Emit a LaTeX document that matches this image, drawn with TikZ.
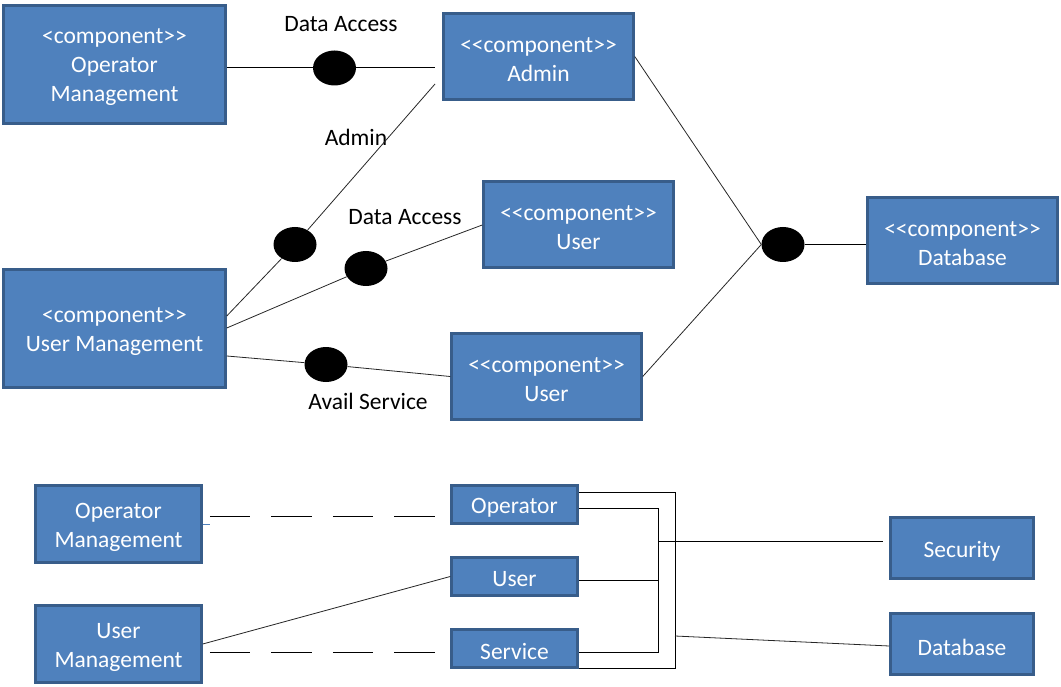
\documentclass[tikz,border=0pt]{standalone}
\usepackage{fontspec}
\setmainfont{Carlito}[Ligatures=TeXOff]
\usetikzlibrary{shapes.geometric,calc}
\definecolor{boxblue}{HTML}{4F81BD}
\definecolor{boxedge}{HTML}{385D8A}
\tikzset{
  comp/.style={draw=boxedge, fill=boxblue, line width=2.5pt, inner sep=0pt},
  ctext/.style={text=white, align=center, inner sep=0pt, yshift=-3pt,
    font=\fontsize{23.5}{29}\selectfont},
  port/.style={ellipse, fill=black, draw=none, inner sep=0pt, minimum width=43pt, minimum height=35pt},
  lbl/.style={font=\fontsize{23.5}{29}\selectfont, text=black, inner sep=0pt},
  wire/.style={draw=black, line width=1pt},
  thinwire/.style={draw=black!85, line width=0.8pt},
  dashwire/.style={draw=black, line width=1pt, dash pattern=on 40.5pt off 21pt},
}
\begin{document}
\begin{tikzpicture}[x=1pt,y=-1pt]
\useasboundingbox (0,0) rectangle (1061,687);
% top section boxes
\node[comp, minimum width=222pt, minimum height=118pt, label={[ctext]center:{<component>>\\Operator\\Management}}] (opm) at (114.5,64.5) {};
\node[comp, minimum width=190pt, minimum height=86pt, label={[ctext]center:{<<component>>\\Admin}}] (admin) at (538.5,56.5) {};
\node[comp, minimum width=190pt, minimum height=86pt, label={[ctext]center:{<<component>>\\User}}] (user1) at (578.5,224.5) {};
\node[comp, minimum width=222pt, minimum height=118pt, label={[ctext]center:{<component>>\\User Management}}] (um) at (114.5,328.5) {};
\node[comp, minimum width=190pt, minimum height=86pt, label={[ctext]center:{<<component>>\\User}}] (user2) at (546.5,376.5) {};
\node[comp, minimum width=190pt, minimum height=86pt, label={[ctext]center:{<<component>>\\Database}}] (db) at (962.5,240.5) {};
% ports
\node[port] (e1) at (334.5,68) {};
\node[port] (e2) at (295,244.5) {};
\node[port] (e3) at (366,268.5) {};
\node[port] (e4) at (326,364.5) {};
\node[port] (e5) at (783,244.5) {};
% labels
\node[lbl] (l1) at (341,24) {Data Access};
\node[lbl] (l2) at (356,137) {Admin};
\node[lbl] (l3) at (405,217) {Data Access};
\node[lbl] (l4) at (368,401) {Avail Service};
% free ends near Admin
\coordinate (a1) at (435,68);
\coordinate (a2) at (435,84);
% top connectors
\draw[wire] ([yshift=-3.5pt]opm.east) -- (e1.west);
\draw[wire] (e1.east) -- (a1);
\draw[thinwire] (a2) -- (e2);
\draw[thinwire] (e2) -- ([yshift=12.5pt]um.east);
\draw[thinwire] ([yshift=0.5pt]um.east) -- (e3);
\draw[thinwire] (e3) -- ([yshift=-0.5pt]user1.west);
\draw[thinwire] ([yshift=-27.5pt]um.east) -- (e4);
\draw[thinwire] (e4) -- (user2.west);
\draw[thinwire] (admin.east) -- (e5.west);
\draw[thinwire] (user2.east) -- (e5.west);
\draw[wire] (e5.east) -- (e5.east -| db.west);
% bottom section boxes
\node[comp, minimum width=166pt, minimum height=77pt, label={[ctext]center:{Operator\\Management}}] (opm2) at (118.5,524) {};
\node[comp, minimum width=166pt, minimum height=77pt, label={[ctext]center:{User\\Management}}] (um2) at (118.5,644) {};
\node[comp, minimum width=126pt, minimum height=38pt, label={[ctext]center:Operator}] (op) at (514.5,504.5) {};
\node[comp, minimum width=126pt, minimum height=38pt, label={[ctext]center:User}] (usr) at (514.5,576.5) {};
\node[comp, minimum width=126pt, minimum height=38pt, label={[ctext]center:Service}] (svc) at (514.5,648.5) {};
\node[comp, minimum width=143pt, minimum height=61pt, label={[ctext]center:Security}] (sec) at (962,548) {};
\node[comp, minimum width=143pt, minimum height=61pt, label={[ctext]center:Database}] (db2) at (962,644) {};
% bottom connectors
\coordinate (ox) at (675,0);
\coordinate (ix) at (658,0);
\draw[boxblue, line width=1pt] (opm2.east) -- +(7,0);
\draw[dashwire] ([xshift=7pt,yshift=8pt]opm2.east) -- ([xshift=-15pt]op.west |- 0,516);
\draw[dashwire] ([xshift=7pt,yshift=-8pt]um2.east) -- ([xshift=-15pt]svc.west |- 0,652);
\draw[thinwire] (um2.east) -- (usr.west);
\draw[wire] ([yshift=12.5pt]op.east) -| ([yshift=-19.5pt]svc.east -| ox) -- ([yshift=-19.5pt]svc.east);
\draw[wire] ([yshift=-3.5pt]op.east) -| ([yshift=-3.5pt]svc.east -| ix) -- ([yshift=-3.5pt]svc.east);
\draw[wire] ([yshift=-3.5pt]usr.east) -- ([yshift=-3.5pt]usr.east -| ix);
\draw[wire] ([yshift=7pt]sec.west -| ix) -- ([xshift=-6pt,yshift=7pt]sec.west);
\draw[thinwire] (ox |- 0,636) -- ([yshift=-2pt]db2.west);
\end{tikzpicture}
\end{document}
